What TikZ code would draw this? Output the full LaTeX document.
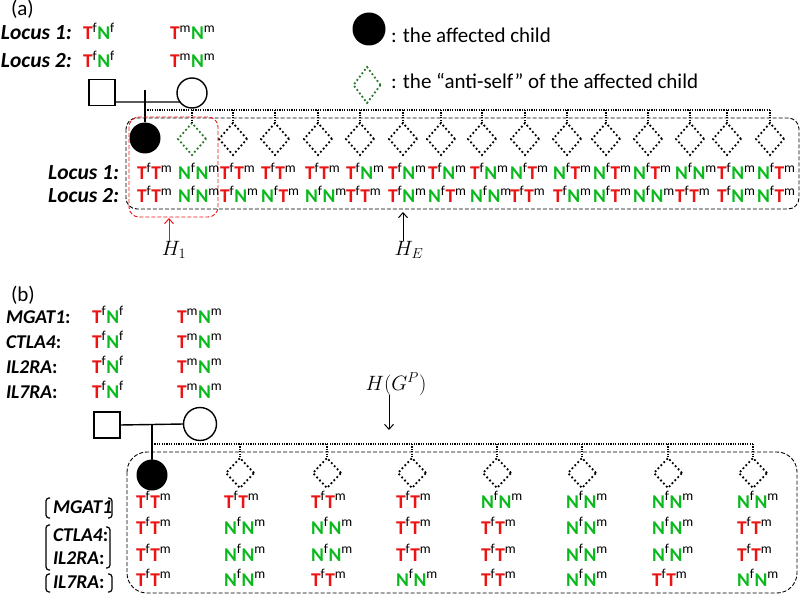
\documentclass[tikz,border=0pt]{standalone}
\usepackage{fontspec}
\setmainfont{Carlito}
\usetikzlibrary{shapes.geometric,arrows.meta}
\definecolor{tred}{RGB}{235,20,20}
\definecolor{tgreen}{RGB}{10,185,30}
\definecolor{dgreen}{RGB}{40,120,40}
\newcommand{\gT}[1]{{\bfseries\color{tred}T}\textsuperscript{#1}}
\newcommand{\gN}[1]{{\bfseries\color{tgreen}N}\textsuperscript{#1}}
\newcommand{\gty}[2]{\csname g#1\endcsname{f}\csname g#2\endcsname{m}}
\begin{document}
\begin{tikzpicture}[x=1pt,y=-1pt,
  every node/.style={inner sep=0pt,outer sep=0pt},
  txt/.style={font=\fontsize{21}{24}\selectfont},
  loclbl/.style={font=\fontsize{21.5}{24}\selectfont\bfseries\itshape,anchor=base west},
  genelbl/.style={font=\fontsize{19.5}{22}\selectfont\bfseries\itshape,anchor=base west},
  geno/.style={font=\fontsize{19.5}{24}\selectfont,anchor=base west},
  mathlbl/.style={font=\fontsize{20}{24}\selectfont},
  kid/.style={diamond,draw,line width=1.8pt,dash pattern=on 1.8pt off 2.4pt,minimum width=28pt,minimum height=32pt},
  kidb/.style={kid,minimum height=30pt},
  ped/.style={line width=1.4pt},
  busline/.style={line width=1.2pt,dash pattern=on 1.2pt off 1.2pt},
  sibbox/.style={line width=0.9pt,dash pattern=on 4pt off 2pt},
  redbox/.style={line width=0.9pt,dash pattern=on 4pt off 2pt,draw=tred,rounded corners=10pt},
  brk/.style={line width=1.2pt,rounded corners=3pt},
  arr/.style={line width=1pt,-{Straight Barb[length=5pt,width=9pt]}}
]
\useasboundingbox (0,0) rectangle (800,596);

% ================= (a) =================
\node[txt,anchor=base west] (la) at (11,16) {(a)};
\node[loclbl] (al1) at (1,40) {Locus 1:};
\node[loclbl] (al2) at (1,68) {Locus 2:};
\node[geno] (af1) at (83,40) {\gT{f}\gN{f}};
\node[geno] (af2) at (83,68) {\gT{f}\gN{f}};
\node[geno] (am1) at (170,40) {\gT{m}\gN{m}};
\node[geno] (am2) at (170,68) {\gT{m}\gN{m}};

\node[draw,ped,minimum size=26pt] (afa) at (102,92.5) {};
\node[draw,ped,circle,minimum size=30pt] (amo) at (192,93) {};
\coordinate (amline) at (0,102);
\draw[ped] (afa.east |- amline) -- (amo.217);

% legend
\node[circle,fill,minimum size=33pt] (lgc) at (369,29) {};
\node[txt,anchor=base west] (lgct) at (391,43) {: the affected child};
\node[kid,draw=dgreen,minimum width=27pt,minimum height=36pt] (lgd) at (367,85) {};
\node[txt,anchor=base west] (lgdt) at (391,89) {: the “anti-self” of the affected child};

% children
\node[circle,fill,minimum size=31pt] (ad1) at (145,138) {};
\coordinate (atop) at (145,90);
\draw[ped] (atop) -- (ad1.north);
\node[kid,draw=dgreen] (ad2) at (192,139) {};
\foreach \i/\x in {3/233,4/275,5/318,6/360,7/403,8/441,9/482,10/525,11/567,12/606,13/648,14/690,15/727,16/770}
  {\node[kid] (ad\i) at (\x,139) {};}
\coordinate (abusL) at (145,110);
\coordinate (abusR) at (770,110);
\draw[busline] (abusL) -- (abusR);
\foreach \i in {2,...,16} {\draw[busline] (ad\i.north |- abusL) -- (ad\i.north);}

\draw[sibbox,rounded corners=11pt] (126,118) rectangle (799,209);
\draw[redbox] (129,117) rectangle (218,217);

\node[loclbl,anchor=base east] (al1b) at (119,180) {Locus 1:};
\node[loclbl,anchor=base east] (al2b) at (119,203) {Locus 2:};
\foreach \i/\x/\a/\b/\c/\d in {1/137/T/T/T/T,2/178/N/N/N/N,3/220/T/T/T/N,4/261/T/T/N/T,5/305/T/T/N/N,6/346/T/N/T/T,7/388/T/N/T/N,8/428/T/N/N/T,9/470/T/N/N/N,10/510/N/T/T/T,11/553/N/T/T/N,12/593/N/T/N/T,13/633/N/T/N/N,14/675/N/N/T/T,15/717/T/N/T/N,16/757/N/T/N/T}
{
  \node[geno] (ag1-\i) at (\x,180) {\gty\a\b};
  \node[geno] (ag2-\i) at (\x,203) {\gty\c\d};
}

\node[mathlbl] (h1) at (174,250) {$H_1$};
\coordinate (h1e) at (169,218);
\draw[arr,draw=tred] (h1.north -| h1e) -- (h1e);
\node[mathlbl] (he) at (409,250) {$H_E$};
\coordinate (hee) at (403,212);
\draw[arr] (he.north -| hee) -- (hee);

% ================= (b) =================
\node[txt,anchor=base west] (lb) at (11,301) {(b)};
\node[genelbl] (bg1) at (6,323) {MGAT1\upshape:};
\node[genelbl] (bg2) at (6,348) {CTLA4\upshape:};
\node[genelbl] (bg3) at (6,373) {IL2RA\upshape:};
\node[genelbl] (bg4) at (6,398) {IL7RA\upshape:};
\foreach \r/\y in {1/323,2/348,3/373,4/398}{
  \node[geno] (bf\r) at (92,\y) {\gT{f}\gN{f}};
  \node[geno] (bm\r) at (177,\y) {\gT{m}\gN{m}};
}
\node[draw,ped,minimum size=26pt] (bfa) at (107,425) {};
\node[draw,ped,circle,minimum size=33pt] (bmo) at (200,424) {};
\draw[ped] (bfa.east) -- (bmo.west);
\coordinate (btop) at (152,424);

\node[circle,fill,minimum size=31pt] (bd1) at (152,475) {};
\draw[ped] (btop) -- (bd1.north);
\foreach \i/\x in {2/240,3/327,4/412,5/497,6/582,7/668,8/753}
  {\node[kidb] (bd\i) at (\x,473) {};}
\coordinate (bbusL) at (152,444);
\coordinate (bbusR) at (753,444);
\draw[busline] (bbusL) -- (bbusR);
\foreach \i in {2,...,8} {\draw[busline] (bd\i.north |- bbusL) -- (bd\i.north);}
\draw[sibbox,rounded corners=20pt] (127,452) rectangle (797,593);

\node[mathlbl] (hg) at (396,384) {$H(G^P)$};
\coordinate (hge) at (389,430);
\draw[arr] (hg.south -| hge) -- (hge);

\foreach \i/\x/\a/\b/\c/\d in {1/136/T/T/T/T,2/224/T/N/N/N,3/311/T/N/N/T,4/396/T/T/T/N,5/481/N/T/T/T,6/566/N/N/N/N,7/652/N/N/N/T,8/737/N/T/T/N}
{
  \node[geno] (bh1-\i) at (\x,508) {\gty\a\a};
  \node[geno] (bh2-\i) at (\x,534) {\gty\b\b};
  \node[geno] (bh3-\i) at (\x,561) {\gty\c\c};
  \node[geno] (bh4-\i) at (\x,586) {\gty\d\d};
}
\node[genelbl] (br1) at (53,513) {MGAT1};
\node[genelbl] (br2) at (53,541) {CTLA4\upshape:};
\node[genelbl] (br3) at (53,564) {IL2RA\upshape:};
\node[genelbl] (br4) at (53,588) {IL7RA\upshape:};
\draw[brk] (50,498) -- (46,498) -- (46,518) -- (50,518);
\draw[brk] (108,498) -- (112,498) -- (112,518) -- (108,518);
\draw[brk] (50,525) -- (46,525) -- (46,570) -- (50,570);
\draw[brk] (106,527) -- (110,527) -- (110,568) -- (106,568);
\draw[brk] (50,574) -- (46,574) -- (46,592) -- (50,592);
\draw[brk] (108,574) -- (112,574) -- (112,592) -- (108,592);
\end{tikzpicture}
\end{document}
